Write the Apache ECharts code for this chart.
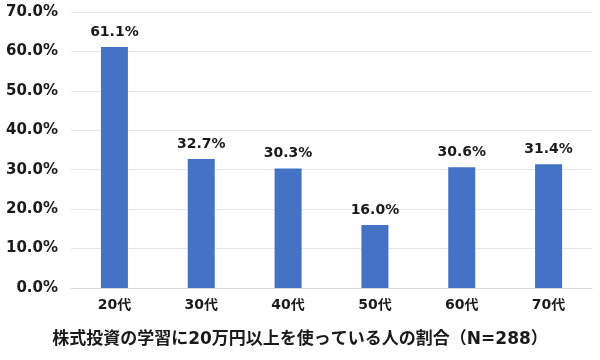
<!DOCTYPE html>
<html><head><meta charset="utf-8">
<script src="https://cdn.jsdelivr.net/npm/echarts@6/dist/echarts.min.js"></script>
<style>html,body{margin:0;padding:0;background:#fff}#c{width:600px;height:360px}</style>
</head><body><div id="c"></div>
<script>
const categories = ['20代','30代','40代','50代','60代','70代'];
const values = [61.1, 32.7, 30.3, 16.0, 30.6, 31.4];
const title = '株式投資の学習に20万円以上を使っている人の割合（N=288）';
const font = '"DejaVu Sans", "Noto Sans CJK JP", sans-serif';
const chart = echarts.init(document.getElementById('c'), null, {renderer:'canvas'});
chart.setOption({
  animation: false,
  backgroundColor: '#fff',
  title: {
    text: title, left: 'center', top: 326,
    textStyle: {fontFamily: font, fontSize: 17, fontWeight: 'bold', color: '#1a1a1a'}
  },
  grid: {left: 71, right: 8, top: 12, bottom: 72},
  xAxis: {
    type: 'category', data: categories,
    axisLine: {show: true, lineStyle: {color: '#d9d9d9'}},
    axisTick: {show: false},
    axisLabel: {margin: 10, fontFamily: font, fontSize: 14, fontWeight: 'bold', color: '#1a1a1a'}
  },
  yAxis: {
    type: 'value', min: 0, max: 70, interval: 10,
    axisLine: {show: false}, axisTick: {show: false},
    splitLine: {lineStyle: {color: '#e6e6e6'}},
    axisLabel: {margin: 13, fontFamily: font, fontSize: 15, fontWeight: 'bold', color: '#1a1a1a',
      formatter: v => v.toFixed(1) + '%'}
  },
  series: [{
    type: 'bar', data: values, barWidth: 27,
    itemStyle: {color: '#4472C4'},
    label: {show: true, position: 'top', distance: 8, fontFamily: font, fontSize: 14, fontWeight: 'bold', color: '#1a1a1a',
      formatter: p => p.value.toFixed(1) + '%'}
  }]
});
</script></body></html>
